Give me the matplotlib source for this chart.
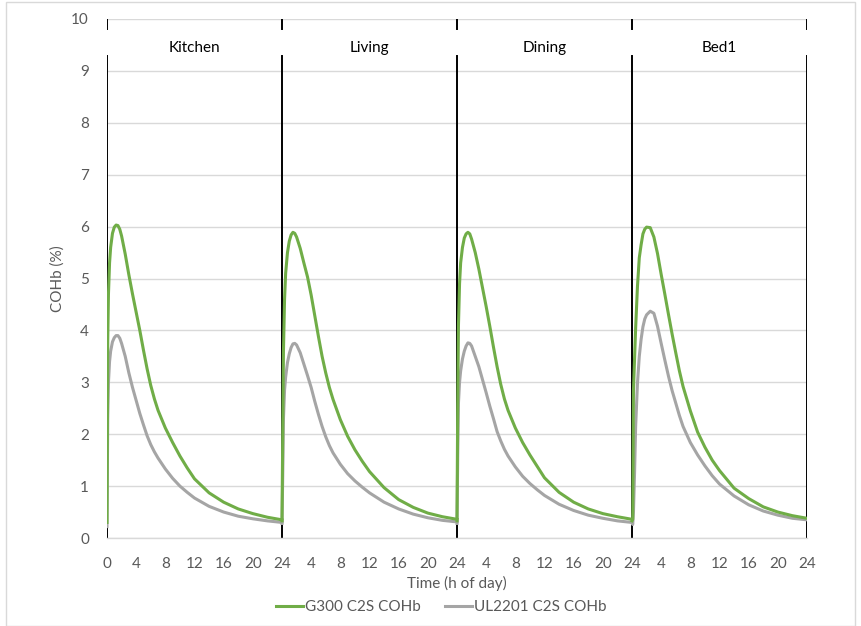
import matplotlib.pyplot as plt
from matplotlib.lines import Line2D
from matplotlib.patches import Rectangle

# hours within each room's day (same sampling for every panel)
hours = [0, 0.1, 0.2, 0.35, 0.5, 0.75, 1, 1.25, 1.5, 1.75, 2, 2.5, 3, 3.5, 4, 4.5,
         5, 5.5, 6, 6.5, 7, 8, 9, 10, 11, 12, 14, 16, 18, 20, 22, 24]

rooms = ["Kitchen", "Living", "Dining", "Bed1"]

# G300 C2S COHb (%)
g300_kitchen = [0.30, 3.8, 4.7, 5.3, 5.6, 5.87, 5.99, 6.03, 6.02, 5.95, 5.82, 5.47,
                5.07, 4.7, 4.35, 4.0, 3.62, 3.26, 2.94, 2.68, 2.46, 2.12, 1.84, 1.58,
                1.35, 1.14, 0.87, 0.69, 0.56, 0.47, 0.40, 0.35]
g300_living = [0.33, 2.0, 3.6, 4.6, 5.1, 5.5, 5.72, 5.84, 5.89, 5.87, 5.8, 5.58,
               5.3, 5.03, 4.68, 4.28, 3.88, 3.5, 3.18, 2.9, 2.67, 2.28, 1.96, 1.7,
               1.48, 1.28, 0.97, 0.74, 0.59, 0.48, 0.41, 0.36]
g300_dining = [0.33, 2.6, 4.1, 4.9, 5.3, 5.6, 5.78, 5.86, 5.89, 5.86, 5.76, 5.5,
               5.18, 4.82, 4.46, 4.08, 3.68, 3.3, 2.96, 2.68, 2.46, 2.12, 1.84, 1.6,
               1.38, 1.16, 0.88, 0.69, 0.56, 0.47, 0.41, 0.36]
g300_bed1 = [0.33, 0.36, 2.85, 3.45, 4.05, 4.85, 5.4, 5.65, 5.86, 5.95, 5.99, 5.98,
             5.8, 5.48, 5.08, 4.7, 4.31, 3.93, 3.57, 3.22, 2.92, 2.45, 2.04, 1.75,
             1.5, 1.3, 0.96, 0.76, 0.6, 0.5, 0.43, 0.38]

# UL2201 C2S COHb (%)
ul_kitchen = [0.22, 2.3, 3.0, 3.4, 3.6, 3.78, 3.86, 3.9, 3.9, 3.85, 3.75, 3.5,
              3.18, 2.9, 2.65, 2.4, 2.18, 1.97, 1.8, 1.66, 1.54, 1.33, 1.15, 1.0,
              0.88, 0.77, 0.61, 0.5, 0.42, 0.37, 0.33, 0.30]
ul_living = [0.28, 1.2, 2.3, 2.85, 3.1, 3.38, 3.55, 3.67, 3.74, 3.75, 3.72, 3.57,
             3.35, 3.13, 2.9, 2.63, 2.38, 2.15, 1.95, 1.78, 1.64, 1.42, 1.24, 1.1,
             0.98, 0.87, 0.69, 0.56, 0.46, 0.39, 0.34, 0.31]
ul_dining = [0.28, 1.6, 2.6, 3.0, 3.22, 3.45, 3.6, 3.7, 3.76, 3.75, 3.7, 3.5,
             3.3, 3.05, 2.8, 2.54, 2.3, 2.05, 1.87, 1.71, 1.58, 1.37, 1.19, 1.05,
             0.93, 0.82, 0.65, 0.53, 0.44, 0.38, 0.33, 0.30]
ul_bed1 = [0.30, 0.26, 0.5, 1.25, 2.15, 2.98, 3.5, 3.83, 4.07, 4.22, 4.3, 4.37,
           4.33, 4.08, 3.75, 3.43, 3.12, 2.84, 2.6, 2.36, 2.15, 1.84, 1.6, 1.39,
           1.2, 1.04, 0.81, 0.64, 0.52, 0.44, 0.38, 0.35]

g300 = [g300_kitchen, g300_living, g300_dining, g300_bed1]
ul2201 = [ul_kitchen, ul_living, ul_dining, ul_bed1]

xtick_labels = ["0", "4", "8", "12", "16", "20", "24"] + ["4", "8", "12", "16", "20", "24"] * 3

green = "#70AD47"
grey = "#A5A5A5"
txt = "#595959"

plt.rcParams['font.family'] = ['Lato', 'DejaVu Sans']

fig = plt.figure(figsize=(8.61, 6.26), dpi=100)
ax = fig.add_axes([107 / 861, 88 / 626, 700 / 861, 519 / 626])

# day separators, broken where the room names sit
for k in range(5):
    ax.plot([24 * k, 24 * k], [-0.05, 9.28], color="black", lw=1.4, zorder=2)
    ax.plot([24 * k, 24 * k], [9.8, 10], color="black", lw=1.4, zorder=2)
for k, room in enumerate(rooms):
    ax.text(24 * k + 12, 9.45, room, ha="center", va="center", fontsize=11, color="black")

for k in range(4):
    xs = [24 * k + h for h in hours]
    ax.plot(xs, g300[k], color=green, lw=2.2, zorder=4)
    ax.plot(xs, ul2201[k], color=grey, lw=2.2, zorder=3)

ax.set_xlim(0, 96)
ax.set_ylim(0, 10)
ax.set_yticks(range(0, 11))
ax.set_xticks(range(0, 97, 4))
ax.set_xticklabels(xtick_labels)
ax.set_xticks(range(0, 97, 12), minor=True)
ax.tick_params(axis="x", which="major", length=0, pad=14, labelsize=11, labelcolor=txt)
ax.tick_params(axis="x", which="minor", length=6, direction="inout", color="#D9D9D9", width=1)
ax.tick_params(axis="y", length=0, pad=13, labelsize=11, labelcolor=txt)

ax.grid(axis="y", color="#D9D9D9", lw=1)
ax.set_axisbelow(True)
for s in ["top", "right", "left"]:
    ax.spines[s].set_visible(False)
ax.spines["bottom"].set_color("#D9D9D9")
ax.spines["bottom"].set_linewidth(1)

ax.set_ylabel("COHb (%)", fontsize=11, color=txt)
ax.yaxis.set_label_coords(-0.06, 0.5)
ax.set_xlabel("Time (h of day)", fontsize=11, color=txt)
ax.xaxis.set_label_coords(0.5, -0.074)

handles = [Line2D([], [], color=green, lw=2.2), Line2D([], [], color=grey, lw=2.2)]
fig.legend(handles, ["G300 C2S COHb", "UL2201 C2S COHb"], loc="center",
           bbox_to_anchor=(441 / 861, 1 - 607 / 626), ncol=2, frameon=False,
           fontsize=11, labelcolor=txt, handlelength=1.8, handletextpad=0.1,
           columnspacing=1.6)

# chart area border
fig.patches.append(Rectangle((6 / 861, 0.5 / 626), 849 / 861, 624 / 626, transform=fig.transFigure,
                             fill=False, edgecolor="#D9D9D9", lw=1))

fig.savefig("out.png", dpi=100)
